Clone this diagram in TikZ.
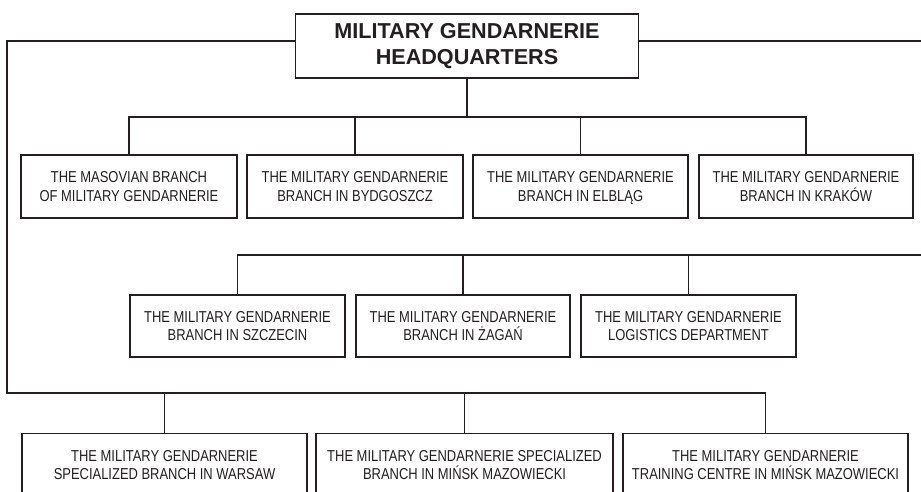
\documentclass[tikz,border=0pt]{standalone}
\usepackage{fontspec}
\newfontfamily\unitfont[FakeStretch=0.82]{Liberation Sans}
\newfontfamily\hqfont{Liberation Sans}
\definecolor{ink}{HTML}{231F20}

\begin{document}
\begin{tikzpicture}[x=1pt, y=-1pt,
    unit/.style={draw=ink, text=ink, line width=1.3pt, minimum height=63pt, inner sep=0pt,
        text depth=0pt, align=center, font=\unitfont\fontsize{15.8}{18.3}\selectfont},
    hq/.style={draw=ink, text=ink, line width=1.3pt, minimum width=343pt, minimum height=64pt,
        inner sep=0pt, align=center, font=\hqfont\bfseries\fontsize{21.6}{25.5}\selectfont},
    link/.style={draw=ink, line width=1.3pt}]
    \clip (0,0) rectangle (921,491);
    % Headquarters
    \node[hq] (hq) at (467,46) {MILITARY GENDARNERIE\\HEADQUARTERS};
    % First row of branches
    \node[unit, minimum width=216pt] (masovia) at (129,186.5) {THE MASOVIAN BRANCH\\OF MILITARY GENDARNERIE};
    \node[unit, minimum width=216pt] (bydgoszcz) at (355,186.5) {THE MILITARY GENDARNERIE\\BRANCH IN BYDGOSZCZ};
    \node[unit, minimum width=215pt] (elblag) at (580.5,186.5) {THE MILITARY GENDARNERIE\\BRANCH IN ELBLĄG};
    \node[unit, minimum width=214pt] (krakow) at (806,186.5) {THE MILITARY GENDARNERIE\\BRANCH IN KRAKÓW};
    % Second row
    \node[unit, minimum width=215pt, minimum height=62pt] (szczecin) at (237.5,326) {THE MILITARY GENDARNERIE\\BRANCH IN SZCZECIN};
    \node[unit, minimum width=214pt, minimum height=62pt] (zagan) at (463,326) {THE MILITARY GENDARNERIE\\BRANCH IN ŻAGAŃ};
    \node[unit, minimum width=215pt, minimum height=62pt] (logistics) at (688.5,326) {THE MILITARY GENDARNERIE\\LOGISTICS DEPARTMENT};
    % Third row (specialized units)
    \node[unit, minimum width=285pt] (warsaw) at (164.5,465) {THE MILITARY GENDARNERIE\\SPECIALIZED BRANCH IN WARSAW};
    \node[unit, minimum width=297pt] (minsk) at (464.5,465) {THE MILITARY GENDARNERIE SPECIALIZED\\BRANCH IN MIŃSK MAZOWIECKI};
    \node[unit, minimum width=285pt] (training) at (765.5,465) {THE MILITARY GENDARNERIE\\TRAINING CENTRE IN MIŃSK MAZOWIECKI};

    % Bus points
    \coordinate (bus1) at (467,117);
    \coordinate (bus2) at (930,255);
    \coordinate (bus3) at (7,393);

    % Links to first row
    \draw[link] (hq.south) -- (bus1);
    \draw[link] (masovia.north) |- (bus1) -| (krakow.north);
    \draw[link] (bydgoszcz.north) -- (bydgoszcz.north |- bus1);
    \draw[link] (elblag.north) -- (elblag.north |- bus1);
    % Links to second row
    \draw[link] ([yshift=5pt]hq.east) -| (bus2) -| (szczecin.north);
    \draw[link] (zagan.north) -- (zagan.north |- bus2);
    \draw[link] (logistics.north) -- (logistics.north |- bus2);
    % Links to third row
    \draw[link] ([yshift=5pt]hq.west) -| (bus3) -| (training.north);
    \draw[link] (warsaw.north) -- (warsaw.north |- bus3);
    \draw[link] (minsk.north) -- (minsk.north |- bus3);
\end{tikzpicture}
\end{document}
